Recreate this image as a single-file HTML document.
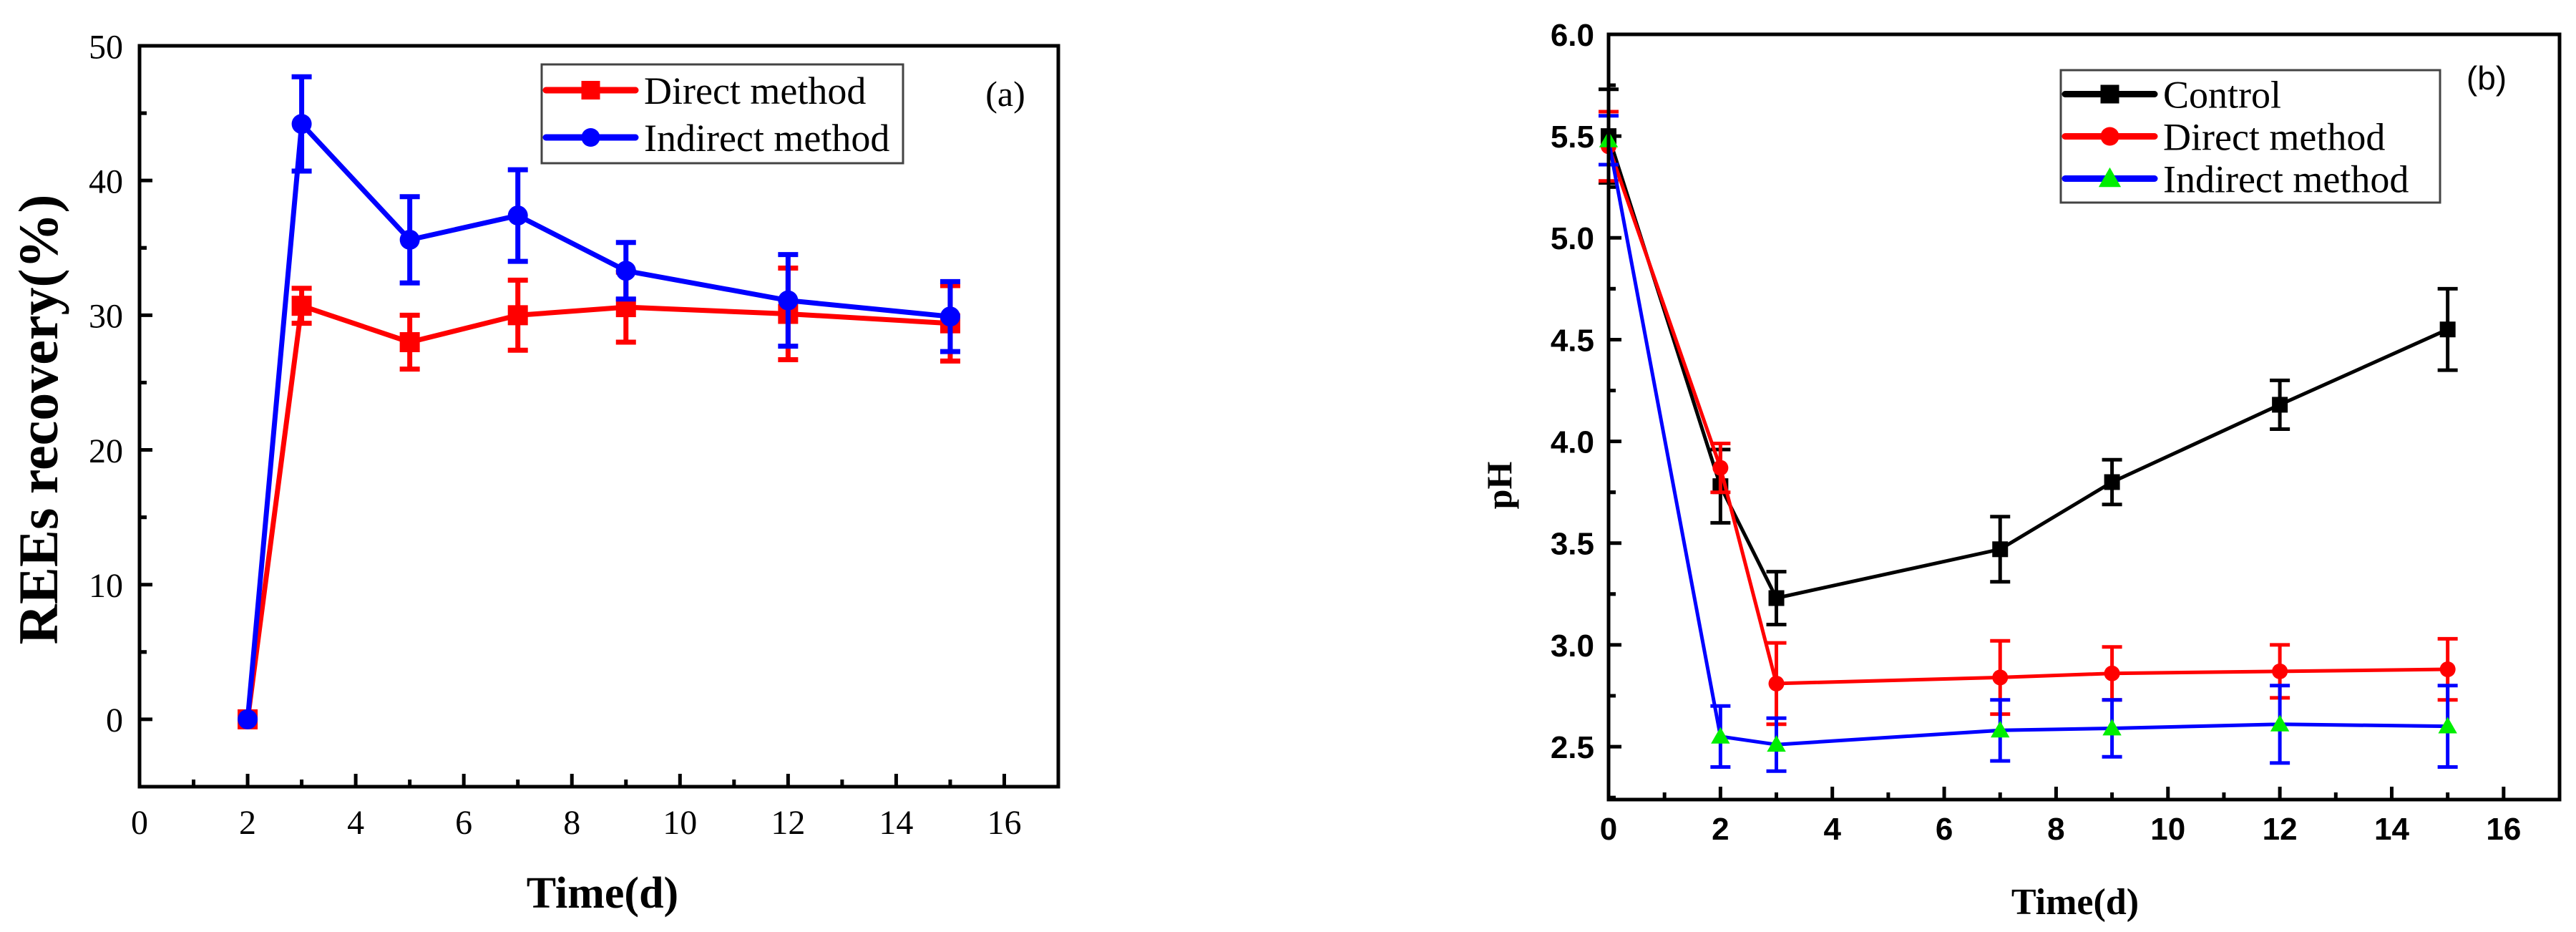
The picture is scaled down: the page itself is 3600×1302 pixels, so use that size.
<!DOCTYPE html>
<html><head><meta charset="utf-8"><style>
html,body{margin:0;padding:0;background:#fff;}
svg{display:block;}
.ser{font-family:"Liberation Serif",serif;}
.san{font-family:"Liberation Sans",sans-serif;}
</style></head><body>
<svg id="fig" width="3600" height="1302" viewBox="0 0 3600 1302" xmlns="http://www.w3.org/2000/svg">
<rect width="3600" height="1302" fill="#fff"/>
<g id="pa"></g>
<g id="pb"></g>
</svg>
<script>
// Panel (a) data
const daysA = [2, 3, 5, 7, 9, 12, 15];
const directA = [0, 30.7, 28.0, 30.0, 30.6, 30.1, 29.4];
const directAErr = [0, 1.3, 2.0, 2.6, 2.6, 3.4, 2.8];
const indirectA = [0, 44.2, 35.6, 37.4, 33.3, 31.1, 29.9];
const indirectAErr = [0, 3.5, 3.2, 3.4, 2.1, 3.4, 2.6];
const xTicksA = ["0","2","4","6","8","10","12","14","16"];
const yTicksA = ["0","10","20","30","40","50"];
// Panel (b) data
const daysB = [0, 2, 3, 7, 9, 12, 15];
const controlB = [5.50, 3.78, 3.23, 3.47, 3.80, 4.18, 4.55];
const controlBErr = [0.23, 0.18, 0.13, 0.16, 0.11, 0.12, 0.20];
const directB = [5.45, 3.87, 2.81, 2.84, 2.86, 2.87, 2.88];
const directBErr = [0.17, 0.12, 0.20, 0.18, 0.13, 0.13, 0.15];
const indirectB = [5.48, 2.55, 2.51, 2.58, 2.59, 2.61, 2.60];
const indirectBErr = [0.12, 0.15, 0.13, 0.15, 0.14, 0.19, 0.20];
const xTicksB = ["0","2","4","6","8","10","12","14","16"];
const yTicksB = ["2.5","3.0","3.5","4.0","4.5","5.0","5.5","6.0"];

const NS = "http://www.w3.org/2000/svg";
function mk(parent, tag, attrs, text){
  const e = document.createElementNS(NS, tag);
  for (const k in attrs) e.setAttribute(k, attrs[k]);
  if (text !== undefined) e.textContent = text;
  parent.appendChild(e);
  return e;
}

function panel(g, cfg){
  const sx = v => cfg.x0 + (v - cfg.xmin) / (cfg.xmax - cfg.xmin) * (cfg.x1 - cfg.x0);
  const sy = v => cfg.y1 - (v - cfg.ymin) / (cfg.ymax - cfg.ymin) * (cfg.y1 - cfg.y0);
  const tg = mk(g, "g", {});
  
  
  cfg.xTicks.forEach(t => {
    const v = parseFloat(t), X = sx(v);
    mk(tg, "line", {x1:X, x2:X, y1:cfg.y1, y2:cfg.y1-18, stroke:"#000","stroke-width":5});
    const lab = mk(g, "text", {x:X, y:cfg.xLabY, "text-anchor":"middle", class:cfg.tickClass, "font-size":cfg.tickSize, "font-weight":cfg.tickWeight}, t);
    
    
    if (v + cfg.xMinor < cfg.xmax) {
      const Xm = sx(v + cfg.xMinor);
      mk(tg, "line", {x1:Xm, x2:Xm, y1:cfg.y1, y2:cfg.y1-10, stroke:"#000","stroke-width":5});
    }
  });
  cfg.yTicks.forEach(t => {
    const v = parseFloat(t), Y = sy(v);
    mk(tg, "line", {x1:cfg.x0, x2:cfg.x0+18, y1:Y, y2:Y, stroke:"#000","stroke-width":5});
    const lab = mk(g, "text", {x:cfg.yLabX, y:Y+cfg.tickSize*0.36, "text-anchor":"end", class:cfg.tickClass, "font-size":cfg.tickSize, "font-weight":cfg.tickWeight}, t);
    
    
    for (const m of [v - cfg.yMinor, v + cfg.yMinor]) {
      if (m > cfg.ymin && m < cfg.ymax && !cfg.yTicks.some(tt => Math.abs(parseFloat(tt)-m)<1e-9)) {
        const Ym = sy(m);
        mk(tg, "line", {x1:cfg.x0, x2:cfg.x0+10, y1:Ym, y2:Ym, stroke:"#000","stroke-width":5});
      }
    }
  });
  cfg.series.forEach(s => {
    const sg = mk(g, "g", {});
    
    
    const pts = cfg.days.map((d,i) => sx(d).toFixed(1) + "," + sy(s.vals[i]).toFixed(1)).join(" ");
    const pl = mk(sg, "polyline", {points:pts, fill:"none", stroke:s.color, "stroke-width":cfg.lw, "stroke-linejoin":"round"});
    
    
    cfg.days.forEach((d,i) => {
      const e = s.err[i];
      if (e > 0) {
        const X = sx(d), Yt = sy(s.vals[i]+e), Yb = sy(s.vals[i]-e);
        const eb = mk(sg, "path", {d:`M${X},${Yt}V${Yb}M${X-14},${Yt}H${X+14}M${X-14},${Yb}H${X+14}`, stroke:s.color, "stroke-width":cfg.lw, fill:"none"});
        
        
      }
    });
    cfg.days.forEach((d,i) => {
      const m = marker(sg, s.marker, sx(d), sy(s.vals[i]), s.mcolor||s.color, cfg.ms);
      
      
    });
  });
  const fr = mk(g, "rect", {x:cfg.x0, y:cfg.y0, width:cfg.x1-cfg.x0, height:cfg.y1-cfg.y0, fill:"none", stroke:"#000", "stroke-width":5});
  
  
  return {sx, sy};
}
function marker(g, type, x, y, color, ms){
  if (type === "square") return mk(g, "rect", {x:x-ms/2, y:y-ms/2, width:ms, height:ms, fill:color});
  if (type === "circle") return mk(g, "circle", {cx:x, cy:y, r:ms/2, fill:color});
  return mk(g, "path", {d:`M${x},${y-ms*0.6}L${x+ms*0.6},${y+ms*0.45}L${x-ms*0.6},${y+ms*0.45}Z`, fill:color});
}
function legend(g, x, y, w, h, items, fs, rowH, lineW){
  const lg = mk(g, "g", {});
  
  
  mk(lg, "rect", {x, y, width:w, height:h, fill:"#fff", stroke:"#444", "stroke-width":3});
  items.forEach((it, i) => {
    const cy = y + rowH*(i+0.5) + (h - rowH*items.length)/2;
    const e = mk(lg, "g", {});
    
    
    mk(e, "line", {x1:x+6, x2:x+6+lineW, y1:cy, y2:cy, stroke:it.color, "stroke-width":9, "stroke-linecap":"round"});
    marker(e, it.marker, x+6+lineW/2, cy, it.mcolor||it.color, 26);
    mk(e, "text", {x:x+lineW+18, y:cy+fs*0.35, class:"ser", "font-size":fs}, it.label);
  });
}

const ga = document.getElementById("pa");
panel(ga, {x0:195, x1:1479, y0:64, y1:1099, xmin:0, xmax:17, ymin:-5, ymax:50,
  xTicks:xTicksA, yTicks:yTicksA, xMinor:1, yMinor:5, days:daysA,
  tickClass:"ser", tickSize:48, tickWeight:"normal", xLabY:1165, yLabX:172, lw:7, ms:28,
  series:[
    {name:"direct-method-series", vals:directA, err:directAErr, color:"#ff0000", marker:"square"},
    {name:"indirect-method-series", vals:indirectA, err:indirectAErr, color:"#0000ff", marker:"circle"}
  ]});
legend(ga, 757, 90, 505, 138, [
  {label:"Direct method", color:"#ff0000", marker:"square"},
  {label:"Indirect method", color:"#0000ff", marker:"circle"}], 54, 66, 125);
let t;
t = mk(ga, "text", {x:1405, y:148, "text-anchor":"middle", class:"ser", "font-size":50}, "(a)");
 
t = mk(ga, "text", {x:842, y:1268, "text-anchor":"middle", class:"ser", "font-size":62, "font-weight":"bold"}, "Time(d)");
 
t = mk(ga, "text", {x:0, y:0, transform:"translate(80,586) rotate(-90)", "text-anchor":"middle", class:"ser", "font-size":78, "font-weight":"bold"}, "REEs recovery(%)");
 

const gb = document.getElementById("pb");
panel(gb, {x0:2248, x1:3577, y0:48, y1:1117, xmin:0, xmax:17, ymin:2.24, ymax:6.0,
  xTicks:xTicksB, yTicks:yTicksB, xMinor:1, yMinor:0.25, days:daysB,
  tickClass:"san", tickSize:44, tickWeight:"bold", xLabY:1173, yLabX:2228, lw:5, ms:22,
  series:[
    {name:"control-series", vals:controlB, err:controlBErr, color:"#000000", marker:"square"},
    {name:"direct-method-series", vals:directB, err:directBErr, color:"#ff0000", marker:"circle"},
    {name:"indirect-method-series", vals:indirectB, err:indirectBErr, color:"#0000ff", marker:"triangle", mcolor:"#00ee00"}
  ]});
legend(gb, 2880, 98, 530, 185, [
  {label:"Control", color:"#000000", marker:"square"},
  {label:"Direct method", color:"#ff0000", marker:"circle"},
  {label:"Indirect method", color:"#0000ff", marker:"triangle", mcolor:"#00ee00"}], 54, 59, 125);
t = mk(gb, "text", {x:3475, y:125, "text-anchor":"middle", class:"san", "font-size":46}, "(b)");
 
t = mk(gb, "text", {x:2900, y:1277, "text-anchor":"middle", class:"ser", "font-size":52, "font-weight":"bold"}, "Time(d)");
 
t = mk(gb, "text", {x:0, y:0, transform:"translate(2112,678) rotate(-90)", "text-anchor":"middle", class:"ser", "font-size":50, "font-weight":"bold"}, "pH");
 
</script>
</body></html>
